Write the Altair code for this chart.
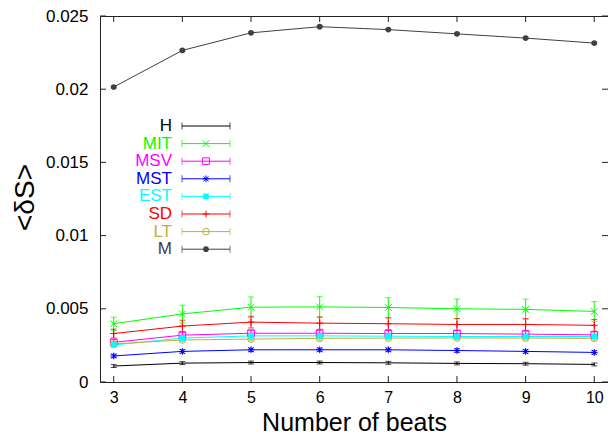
import altair as alt
import pandas as pd

FONT = "Liberation Sans"

beats = [3, 4, 5, 6, 7, 8, 9, 10]
names = ["H", "MIT", "MSV", "MST", "EST", "SD", "LT", "M"]
colors = ["#000000", "#00ff00", "#ff00ff", "#0000ff", "#00ffff", "#ff0000", "#c0b034", "#404040"]
y_ticks = [0, 0.005, 0.01, 0.015, 0.02, 0.025]

H = [0.00109, 0.00129, 0.00133, 0.00133, 0.00131, 0.00127, 0.00125, 0.00120]
H_err = [0.00010, 0.00010, 0.00010, 0.00010, 0.00010, 0.00010, 0.00010, 0.00010]
MIT = [0.00398, 0.00465, 0.00511, 0.00513, 0.00509, 0.00500, 0.00496, 0.00482]
MIT_err = [0.00045, 0.00060, 0.00070, 0.00070, 0.00067, 0.00067, 0.00070, 0.00067]
MSV = [0.00271, 0.00320, 0.00333, 0.00333, 0.00331, 0.00331, 0.00327, 0.00322]
MSV_err = [0.00020, 0.00020, 0.00020, 0.00020, 0.00020, 0.00020, 0.00020, 0.00020]
MST = [0.00178, 0.00209, 0.00220, 0.00220, 0.00220, 0.00215, 0.00209, 0.00202]
MST_err = [0.00012, 0.00012, 0.00012, 0.00012, 0.00012, 0.00012, 0.00012, 0.00012]
EST = [0.00253, 0.00300, 0.00315, 0.00315, 0.00313, 0.00311, 0.00311, 0.00311]
EST_err = [0.00015, 0.00015, 0.00015, 0.00015, 0.00015, 0.00015, 0.00015, 0.00015]
SD = [0.00331, 0.00382, 0.00409, 0.00402, 0.00398, 0.00393, 0.00393, 0.00387]
SD_err = [0.00030, 0.00040, 0.00040, 0.00042, 0.00040, 0.00040, 0.00040, 0.00040]
LT = [0.00260, 0.00287, 0.00293, 0.00298, 0.00300, 0.00301, 0.00300, 0.00298]
LT_err = [0.00012, 0.00012, 0.00012, 0.00012, 0.00012, 0.00012, 0.00012, 0.00012]
M = [0.02015, 0.02265, 0.02385, 0.02427, 0.02407, 0.02378, 0.02349, 0.02315]
M_err = [0.00006, 0.00006, 0.00006, 0.00006, 0.00006, 0.00006, 0.00006, 0.00006]

values = {"H": H, "MIT": MIT, "MSV": MSV, "MST": MST, "EST": EST, "SD": SD, "LT": LT, "M": M}
errors = {"H": H_err, "MIT": MIT_err, "MSV": MSV_err, "MST": MST_err, "EST": EST_err,
          "SD": SD_err, "LT": LT_err, "M": M_err}

rows = []
for n in names:
    for b, v, e in zip(beats, values[n], errors[n]):
        rows.append({"name": n, "beats": b, "val": v, "lo": v - e, "hi": v + e})
df = pd.DataFrame(rows)

marker_names = ["MIT", "MSV", "MST", "EST", "SD", "LT", "M"]
marker_shapes = [
    "M-1,-1L1,1M-1,1L1,-1",
    "square",
    "M-1,0L1,0M0,-1L0,1M-0.75,-0.75L0.75,0.75M-0.75,0.75L0.75,-0.75",
    "square",
    "M-1,0L1,0M0,-1L0,1",
    "circle",
    "circle",
]
open_names = ["MIT", "MSV", "MST", "SD", "LT"]
filled_names = ["EST", "M"]

xscale = alt.Scale(domain=[2.8, 10.2], nice=False, zero=False)
yscale = alt.Scale(domain=[0, 0.025], nice=False, zero=False)
color = alt.Color("name:N", scale=alt.Scale(domain=names, range=colors), legend=None)
shape = alt.Shape("name:N", scale=alt.Scale(domain=marker_names, range=marker_shapes), legend=None)

W, Hh = 508, 366

xaxis = alt.Axis(values=beats, format="d", title="Number of beats", labelPadding=7,
                 titleBaseline="alphabetic", titleY=48, titleFontSize=25, labelFontSize=16)
yaxis = alt.Axis(values=y_ticks, format="~g", title="<δS>", labelPadding=12,
                 titleAngle=270, titleBaseline="alphabetic", titleX=-67, titleY=181,
                 titleFontSize=28, labelFontSize=17)


def X(field):
    return alt.X(field, scale=xscale, axis=xaxis)


def Y(field):
    return alt.Y(field, scale=yscale, axis=yaxis)


base = alt.Chart(df)

lines = base.mark_line(strokeWidth=1).encode(x=X("beats:Q"), y=Y("val:Q"), color=color)
err_rule = base.mark_rule(strokeWidth=1).encode(x=X("beats:Q"), y=Y("lo:Q"), y2="hi:Q", color=color)
cap_lo = base.mark_tick(orient="horizontal", size=6, thickness=1).encode(
    x=X("beats:Q"), y=Y("lo:Q"), color=color)
cap_hi = base.mark_tick(orient="horizontal", size=6, thickness=1).encode(
    x=X("beats:Q"), y=Y("hi:Q"), color=color)
pts_open = base.transform_filter(
    alt.FieldOneOfPredicate(field="name", oneOf=open_names)
).mark_point(filled=False, size=45, strokeWidth=1, opacity=1).encode(
    x=X("beats:Q"), y=Y("val:Q"), color=color, shape=shape)
pts_filled = base.transform_filter(
    alt.FieldOneOfPredicate(field="name", oneOf=filled_names)
).mark_point(filled=True, size=32, opacity=1).encode(
    x=X("beats:Q"), y=Y("val:Q"), color=color, shape=shape)

# inward ticks on all four sides
xt = alt.Chart(pd.DataFrame({"t": beats}))
yt = alt.Chart(pd.DataFrame({"t": y_ticks}))
tick_b = xt.mark_rule(color="#222", strokeWidth=1).encode(
    x=X("t:Q"), y=alt.value(Hh), y2=alt.value(Hh - 6))
tick_t = xt.mark_rule(color="#222", strokeWidth=1).encode(
    x=X("t:Q"), y=alt.value(0), y2=alt.value(6))
tick_l = yt.mark_rule(color="#222", strokeWidth=1).encode(
    y=Y("t:Q"), x=alt.value(0), x2=alt.value(6))
tick_r = yt.mark_rule(color="#222", strokeWidth=1).encode(
    y=Y("t:Q"), x=alt.value(W), x2=alt.value(W - 6))

# key (legend) drawn inside the plot
leg_df = pd.DataFrame({"name": names})
leg_df["ly"] = 110 + 17.6 * leg_df.index
leg = alt.Chart(leg_df)
ly = alt.Y("ly:Q", scale=None, axis=None)
leg_text = leg.mark_text(align="right", baseline="middle", fontSize=17, font=FONT).encode(
    x=alt.value(72), y=ly, text="name:N", color=color)
leg_line = leg.mark_rule(strokeWidth=1).encode(
    x=alt.value(82), x2=alt.value(130), y=ly, color=color)
leg_cap1 = leg.mark_tick(orient="vertical", size=7, thickness=1).encode(
    x=alt.value(82), y=ly, color=color)
leg_cap2 = leg.mark_tick(orient="vertical", size=7, thickness=1).encode(
    x=alt.value(130), y=ly, color=color)
leg_open = leg.transform_filter(
    alt.FieldOneOfPredicate(field="name", oneOf=open_names)
).mark_point(filled=False, size=45, strokeWidth=1, opacity=1).encode(
    x=alt.value(106), y=ly, color=color, shape=shape)
leg_filled = leg.transform_filter(
    alt.FieldOneOfPredicate(field="name", oneOf=filled_names)
).mark_point(filled=True, size=32, opacity=1).encode(
    x=alt.value(106), y=ly, color=color, shape=shape)

chart = alt.layer(
    lines, err_rule, cap_lo, cap_hi, pts_open, pts_filled,
    tick_b, tick_t, tick_l, tick_r,
    leg_text, leg_line, leg_cap1, leg_cap2, leg_open, leg_filled,
).properties(
    width=W, height=Hh,
    autosize=alt.AutoSizeParams(type="none"),
    padding={"left": 92, "top": 8, "right": 0, "bottom": 55},
).configure_view(
    stroke="#222", strokeWidth=1
).configure_axis(
    grid=False, domain=False, ticks=False, tickSize=0,
    labelFont=FONT, titleFont=FONT, labelColor="#000", titleColor="#000",
    titleFontWeight="normal",
)

chart.save("out.html", embed_options={"renderer": "svg", "actions": False})
